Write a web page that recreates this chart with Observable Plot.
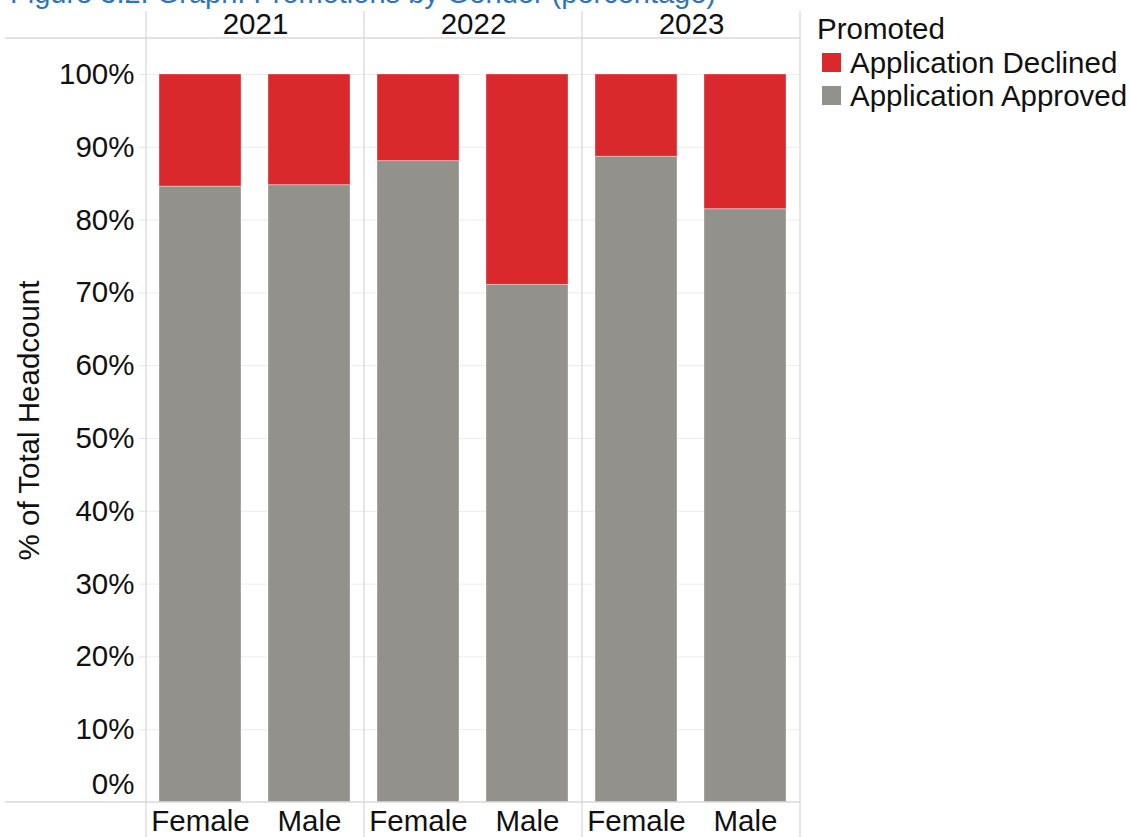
<!DOCTYPE html>
<html><head><meta charset="utf-8">
<script src="https://cdn.jsdelivr.net/npm/d3@7"></script>
<script src="https://cdn.jsdelivr.net/npm/@observablehq/plot@0.6"></script>
<style>
body{margin:0;background:#fff;font-family:"Liberation Sans",Arial,sans-serif;}
#wrap{position:relative;width:1130px;height:837px;overflow:hidden;background:#fff;}
#chart{position:absolute;left:0;top:0;}
#title{position:absolute;left:10px;top:-21px;font-size:29px;line-height:28px;height:28px;color:#2f75b5;white-space:nowrap;}
#legend{position:absolute;left:817px;top:12px;font-size:29.5px;line-height:33.5px;color:#111;}
#legend .row{display:flex;align-items:center;margin-left:5px;}
#legend .sw{width:19px;height:19px;margin-right:9px;}
</style></head>
<body>
<div id="wrap">
  <div id="chart"></div>
  <div id="title">Figure 3.2: Graph: Promotions by Gender (percentage)</div>
  <div id="legend"></div>
</div>
<script>
const years = ["2021", "2022", "2023"];
const genders = ["Female", "Male"];
const approved = [84.6, 84.8, 88.1, 71.1, 88.7, 81.5];
const declined = [15.4, 15.2, 11.9, 28.9, 11.3, 18.5];
const seriesNames = ["Application Declined", "Application Approved"];
const seriesColors = ["#d9292c", "#92918c"];
const yTicks = [0, 10, 20, 30, 40, 50, 60, 70, 80, 90, 100];
const legendTitle = "Promoted";
const yLabel = "% of Total Headcount";

const rows = [];
approved.forEach((v, i) => {
  const year = years[Math.floor(i / genders.length)];
  const gender = genders[i % genders.length];
  rows.push({year, gender, series: seriesNames[1], value: v});
  rows.push({year, gender, series: seriesNames[0], value: declined[i]});
});

const font = "'Liberation Sans', Arial, sans-serif";
const fs = 29.5;
const plot = Plot.plot({
  width: 805, height: 837,
  marginLeft: 145, marginRight: 4, marginTop: 38, marginBottom: 35,
  style: {fontFamily: font, fontSize: fs + "px", color: "#111", background: "transparent"},
  fx: {domain: years, paddingInner: 0, paddingOuter: 0, label: null},
  x: {domain: genders, paddingInner: 0.245, paddingOuter: 0.114, label: null},
  y: {domain: [0, 100], insetTop: 36, label: null},
  color: {domain: seriesNames, range: seriesColors},
  marks: [
    Plot.gridY(yTicks.slice(1), {stroke: "#ececec", strokeOpacity: 1}),
    Plot.barY(rows, {
      fx: "year", x: "gender", y: "value", fill: "series",
      order: [seriesNames[1], seriesNames[0]],
      stroke: "#ffffff", strokeOpacity: 0.35, strokeWidth: 1
    }),
    Plot.axisY(yTicks.slice(1), {
      tickFormat: d => d + "%", tickSize: 7, tickPadding: 5, stroke: "#e4e4e4",
      label: yLabel, labelArrow: "none", labelAnchor: "center", labelOffset: 128, fontSize: fs
    }),
    Plot.axisY([0], {tickFormat: d => d + "%", tickSize: 0, tickPadding: 12, dy: -18, label: null, fontSize: fs}),
    Plot.axisX({tickSize: 0, tickPadding: 8, label: null, fontSize: fs}),
    Plot.axisFx({anchor: "top", tickSize: 0, tickPadding: 5, label: null, fontSize: fs})
  ]
});
document.getElementById("chart").appendChild(plot);

// panel divider lines (derived from the scales)
const svg = d3.select(plot);
const fx = plot.scale("fx");
const ys = plot.scale("y");
const bounds = years.map(y => fx.apply(y));
bounds.push(fx.apply(years[years.length - 1]) + fx.bandwidth);
const g = svg.append("g").attr("stroke", "#d9d9d9").attr("stroke-width", 1.3).attr("fill", "none");
bounds.forEach(b => g.append("line").attr("x1", b).attr("x2", b).attr("y1", 11).attr("y2", 837));
[38, ys.apply(0)].forEach(yv => g.append("line").attr("x1", 5).attr("x2", bounds[bounds.length - 1]).attr("y1", yv).attr("y2", yv));

// legend
const leg = d3.select("#legend");
leg.append("div").text(legendTitle);
seriesNames.forEach((s, i) => {
  const r = leg.append("div").attr("class", "row");
  r.append("div").attr("class", "sw").style("background", seriesColors[i]);
  r.append("div").text(s);
});
</script>
</body></html>
